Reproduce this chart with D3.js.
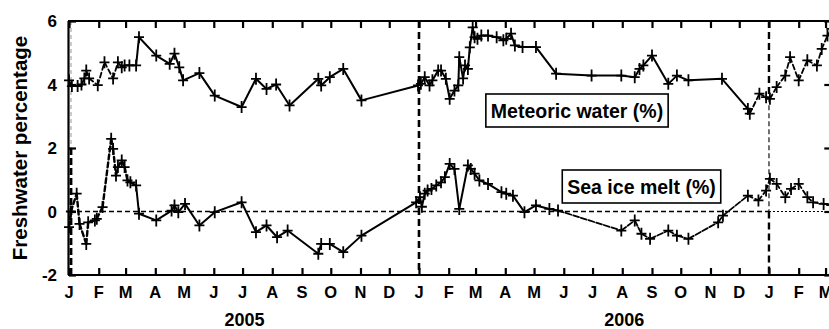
<!DOCTYPE html>
<html>
<head>
<meta charset="utf-8">
<script src="https://cdn.jsdelivr.net/npm/d3@7"></script>
<style>
  html, body { margin: 0; padding: 0; background: #fff; }
  svg { display: block; font-family: "Liberation Sans", Arial, Helvetica, sans-serif; font-weight: bold; }
</style>
</head>
<body>
<svg id="chart" width="829" height="329"></svg>
<script>
// Freshwater fractions (meteoric water and sea ice melt), 2005 – early 2007
const meteoricDates = [
  "2005-01-01","2005-01-04","2005-01-10","2005-01-14","2005-01-17","2005-01-19","2005-01-22","2005-01-31",
  "2005-02-07","2005-02-16","2005-02-21","2005-02-25","2005-02-28","2005-03-05","2005-03-12","2005-03-15",
  "2005-04-02","2005-04-16","2005-04-21","2005-04-26","2005-04-30","2005-05-17","2005-06-02","2005-06-30",
  "2005-07-15","2005-07-26","2005-08-05","2005-08-19","2005-09-18","2005-09-21","2005-09-30","2005-10-14",
  "2005-11-02","2005-12-31","2006-01-03","2006-01-07","2006-01-12","2006-01-15","2006-01-21","2006-01-24",
  "2006-01-29","2006-02-02","2006-02-07","2006-02-11","2006-02-12","2006-02-16","2006-02-18","2006-02-21",
  "2006-02-23","2006-02-26","2006-02-28","2006-03-03","2006-03-07","2006-03-14","2006-03-23","2006-03-30",
  "2006-04-02","2006-04-07","2006-04-11","2006-04-19","2006-05-03","2006-05-24","2006-06-30","2006-07-31",
  "2006-08-14","2006-08-19","2006-08-23","2006-09-01","2006-09-18","2006-09-27","2006-10-09","2006-11-13",
  "2006-12-10","2006-12-12","2006-12-22","2006-12-29","2007-01-02","2007-01-09","2007-01-18","2007-01-23",
  "2007-02-01","2007-02-10","2007-02-20","2007-02-25","2007-03-03","2007-03-07"
];
const meteoricValues = [
  4.13, 3.95, 3.95, 4.00, 4.19, 4.44, 4.19, 3.98,
  4.70, 4.19, 4.70, 4.54, 4.60, 4.60, 4.60, 5.49,
  4.91, 4.65, 4.97, 4.54, 4.13, 4.36, 3.65, 3.29,
  4.18, 3.86, 4.00, 3.34, 4.18, 3.97, 4.23, 4.49,
  3.50, 3.97, 4.02, 4.23, 3.97, 4.13, 4.44, 4.44,
  4.18, 3.55, 3.81, 3.97, 4.86, 4.19, 4.60, 4.49,
  5.17, 5.80, 5.49, 5.44, 5.54, 5.54, 5.49, 5.39,
  5.44, 5.60, 5.23, 5.18, 5.18, 4.34, 4.28, 4.28,
  4.23, 4.49, 4.60, 4.91, 4.02, 4.28, 4.13, 4.18,
  3.23, 3.08, 3.71, 3.60, 3.55, 3.92, 4.28, 4.86,
  4.13, 4.76, 4.60, 5.12, 5.54, 5.75
];

const seaIceDates = [
  "2005-01-01","2005-01-03","2005-01-09","2005-01-12","2005-01-19","2005-01-21","2005-01-28","2005-01-30",
  "2005-02-05","2005-02-14","2005-02-16","2005-02-19","2005-02-21","2005-02-25","2005-02-28","2005-03-03",
  "2005-03-06","2005-03-12","2005-03-15","2005-04-02","2005-04-18","2005-04-21","2005-04-25","2005-05-02",
  "2005-05-17","2005-06-02","2005-06-30","2005-07-15","2005-07-26","2005-08-06","2005-08-17","2005-09-18",
  "2005-09-21","2005-09-30","2005-10-14","2005-11-02","2005-12-29","2006-01-02","2006-01-04","2006-01-07",
  "2006-01-10","2006-01-14","2006-01-19","2006-01-24","2006-01-28","2006-02-02","2006-02-07","2006-02-12",
  "2006-02-21","2006-02-24","2006-02-28","2006-03-05","2006-03-14","2006-03-28","2006-04-02","2006-04-09",
  "2006-04-21","2006-05-03","2006-05-17","2006-05-26","2006-07-31","2006-08-14","2006-08-21","2006-08-30",
  "2006-09-18","2006-09-27","2006-10-09","2006-11-09","2006-11-14","2006-12-10","2006-12-21","2006-12-29",
  "2007-01-02","2007-01-09","2007-01-18","2007-01-24","2007-02-01","2007-02-10","2007-02-16","2007-02-27",
  "2007-03-07"
];
const seaIceValues = [
  -0.49, 0.00, 0.56, -0.39, -1.02, -0.34, -0.28, -0.23,
  0.14, 2.29, 1.97, 1.13, 1.40, 1.61, 1.40, 0.98,
  0.92, 0.82, -0.07, -0.28, 0.03, 0.19, -0.02, 0.24,
  -0.44, -0.02, 0.29, -0.65, -0.44, -0.81, -0.60, -1.33,
  -1.02, -1.02, -1.28, -0.76, 0.29, 0.45, 0.15, 0.56,
  0.66, 0.71, 0.82, 0.92, 1.08, 1.50, 1.34, 0.08,
  1.45, 1.34, 1.19, 0.98, 0.87, 0.61, 0.56, 0.50,
  -0.02, 0.19, 0.08, 0.03, -0.60, -0.28, -0.70, -0.86,
  -0.60, -0.76, -0.86, -0.34, -0.13, 0.50, 0.35, 0.66,
  1.03, 0.87, 0.45, 0.71, 0.87, 0.45, 0.29, 0.24,
  0.20
];

const monthLabels = ["J","F","M","A","M","J","J","A","S","O","N","D"];
const yearLabels = ["2005", "2006"];
const yTicks = [-2, 0, 2, 4, 6];
const yTickLabels = ["-2", "0", "2", "4", "6"];
const seriesLabels = ["Meteoric water (%)", "Sea ice melt (%)"];
const yTitle = "Freshwater percentage";

const parse = d3.utcParse("%Y-%m-%d");
const meteoric = meteoricDates.map((d, i) => ({ date: parse(d), value: meteoricValues[i] }));
const seaIce = seaIceDates.map((d, i) => ({ date: parse(d), value: seaIceValues[i] }));

const svg = d3.select("#chart");
const plotLeft = 69, plotRight = 831.3, plotTop = 21, plotBottom = 275;

const x = d3.scaleUtc()
  .domain([parse("2005-01-01"), parse("2007-03-07")])
  .range([plotLeft, plotRight]);
const y = d3.scaleLinear().domain([-2, 6]).range([plotBottom, plotTop]);

const y2005 = parse("2005-01-01"), y2006 = parse("2006-01-01"), y2007 = parse("2007-01-01");
const earlyEnd = parse("2005-03-14");
const winterStart = parse("2006-12-01");
const lateStart = parse("2006-05-20");

// zero reference line: dashed over the two full years, dotted after
svg.append("line")
  .attr("x1", x(y2005)).attr("x2", x(y2007)).attr("y1", y(0)).attr("y2", y(0))
  .attr("stroke", "#000").attr("stroke-width", 1.4).attr("stroke-dasharray", "5,3");
svg.append("line")
  .attr("x1", x(y2007)).attr("x2", plotRight).attr("y1", y(0)).attr("y2", y(0))
  .attr("stroke", "#000").attr("stroke-width", 1.2).attr("stroke-dasharray", "2,2");

// year boundaries
const vline = (date, v1, v2, color, width, dash, shift = 0) => svg.append("line")
  .attr("x1", x(date) + shift).attr("x2", x(date) + shift)
  .attr("y1", y(v1)).attr("y2", y(v2))
  .attr("stroke", color).attr("stroke-width", width).attr("stroke-dasharray", dash);
vline(y2005, 6, 2, "#bbb", 1.5, "4,3", 2);
vline(y2005, 2, -2, "#000", 2.8, "7,3", 2);
vline(y2006, 6, -2, "#000", 2.6, "7,4");
vline(y2007, 6, 3.6, "#000", 2.4, "7,4");
vline(y2007, 3.6, 0, "#000", 1.1, "5,3");
vline(y2007, 0, -2, "#000", 2.4, "7,4");

// connecting segments, styled by sampling period
function segStyle(a, b, sea) {
  if (b.date <= earlyEnd) return { w: sea ? 2.4 : 1.8, dash: "5,3" };
  if (a.date >= winterStart) return { w: 1.8, dash: "5,3" };
  if (sea && a.date >= lateStart) return { w: 1.8, dash: "6,2" };
  return { w: 2, dash: null };
}
function drawSeries(data, sea) {
  const g = svg.append("g");
  for (let i = 1; i < data.length; i++) {
    const a = data[i - 1], b = data[i], s = segStyle(a, b, sea);
    g.append("line")
      .attr("x1", x(a.date)).attr("y1", y(a.value))
      .attr("x2", x(b.date)).attr("y2", y(b.value))
      .attr("stroke", "#000").attr("stroke-width", s.w)
      .attr("stroke-dasharray", s.dash)
      .attr("stroke-linecap", "round");
  }
  g.selectAll("path.mk").data(data).join("path")
    .attr("class", "mk")
    .attr("d", d => `M${x(d.date) - 5},${y(d.value)}h10M${x(d.date)},${y(d.value) - 6}v12`)
    .attr("stroke", "#000").attr("stroke-width", 1.8).attr("fill", "none");
}
drawSeries(meteoric, false);
drawSeries(seaIce, true);

// frame
const frame = svg.append("g").attr("stroke", "#000").attr("stroke-width", 2.2);
frame.append("line").attr("x1", plotLeft - 1).attr("x2", plotRight).attr("y1", plotTop).attr("y2", plotTop);
frame.append("line").attr("x1", plotLeft - 1).attr("x2", plotRight).attr("y1", plotBottom).attr("y2", plotBottom);
frame.append("line").attr("x1", plotLeft - 0.5).attr("x2", plotLeft - 0.5).attr("y1", plotTop).attr("y2", plotBottom);
frame.append("line").attr("x1", plotRight).attr("x2", plotRight).attr("y1", plotTop).attr("y2", plotBottom);

// month ticks (inward, top and bottom) and labels
const months = d3.utcMonth.range(parse("2005-01-01"), parse("2007-03-02"));
const bottomAxis = d3.axisBottom(x).tickValues(months).tickSize(-7).tickFormat("");
const topAxis = d3.axisTop(x).tickValues(months).tickSize(-7).tickFormat("");
[ svg.append("g").attr("transform", `translate(0,${plotBottom})`).call(bottomAxis),
  svg.append("g").attr("transform", `translate(0,${plotTop})`).call(topAxis) ].forEach(g => {
  g.select(".domain").remove();
  g.selectAll(".tick line").attr("stroke", "#000").attr("stroke-width", 2.2);
});
svg.append("g").selectAll("text").data(months).join("text")
  .attr("x", d => x(d)).attr("y", 298)
  .attr("text-anchor", "middle").attr("font-size", 16.5)
  .text(d => monthLabels[d.getUTCMonth()]);

// year labels, set under the middle of each year's month row
const yearAnchor = { "2005": "2005-07-03", "2006": "2006-08-03" };
svg.append("g").selectAll("text").data(yearLabels).join("text")
  .attr("x", d => x(parse(yearAnchor[d]))).attr("y", 326)
  .attr("text-anchor", "middle").attr("font-size", 18)
  .text(d => d);

// y axis ticks and labels
const yAxisL = d3.axisLeft(y).tickValues(yTicks).tickSize(-7).tickFormat("");
const yAxisR = d3.axisRight(y).tickValues(yTicks).tickSize(-7).tickFormat("");
[ svg.append("g").attr("transform", `translate(${plotLeft},0)`).call(yAxisL),
  svg.append("g").attr("transform", `translate(${plotRight},0)`).call(yAxisR) ].forEach(g => {
  g.select(".domain").remove();
  g.selectAll(".tick line").attr("stroke", "#000").attr("stroke-width", 2.2);
});
svg.append("g").selectAll("text").data(yTicks).join("text")
  .attr("x", 57).attr("y", d => y(d)).attr("dy", "0.36em")
  .attr("text-anchor", "end").attr("font-size", 17)
  .text((d, i) => yTickLabels[i]);

svg.append("text")
  .attr("transform", `translate(27,${(plotTop + plotBottom) / 2}) rotate(-90)`)
  .attr("text-anchor", "middle").attr("font-size", 20.5)
  .text(yTitle);

// boxed series labels
function boxLabel(text, cx, cy) {
  const g = svg.append("g");
  const t = g.append("text").attr("x", cx).attr("y", cy).attr("dy", "0.36em")
    .attr("text-anchor", "middle").attr("font-size", 19.5).text(text);
  const bb = t.node().getBBox();
  g.insert("rect", "text")
    .attr("x", bb.x - 5).attr("y", cy - 16.5).attr("width", bb.width + 10).attr("height", 33)
    .attr("fill", "#fff").attr("stroke", "#000").attr("stroke-width", 1.6);
}
boxLabel(seriesLabels[0], 577, 110.5);
boxLabel(seriesLabels[1], 641.5, 186.5);
</script>
</body>
</html>
